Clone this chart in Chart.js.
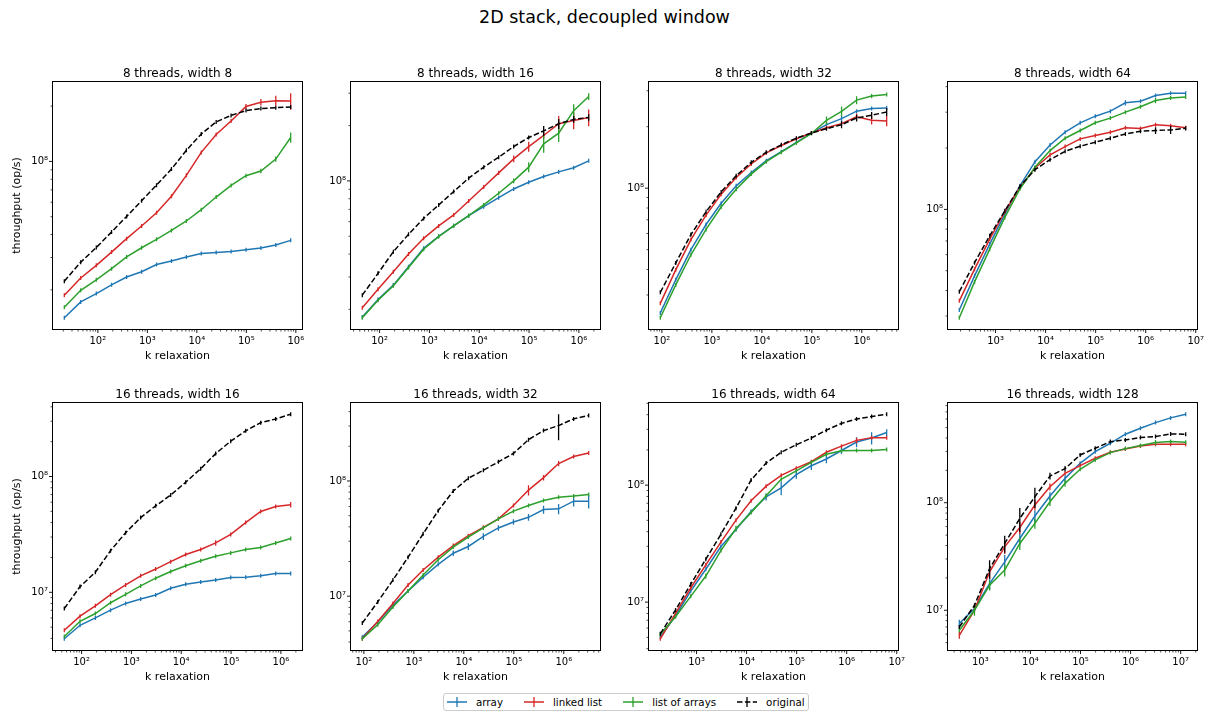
<!DOCTYPE html>
<html>
<head>
<meta charset="utf-8">
<title>2D stack, decoupled window</title>
<script src="https://cdn.jsdelivr.net/npm/chart.js@4.4.0/dist/chart.umd.min.js"></script>
<style>
  html, body { margin: 0; padding: 0; background: #fff; }
  #fig { position: relative; width: 1209px; height: 713px; overflow: hidden; font-family: "DejaVu Sans", sans-serif; color: #000; }
  #fig canvas { position: absolute; }
  #suptitle { position: absolute; left: 0; top: 7px; width: 1209px; text-align: center; font-size: 17.5px; line-height: 20px; }
  #legend { position: absolute; left: 443px; top: 693px; height: 18px; box-sizing: border-box; border: 1px solid #ccc; border-radius: 3px;
            padding: 0 3px; display: flex; align-items: center; font-size: 10.3px; white-space: nowrap; background: rgba(255,255,255,.8); }
  #legend .it { display: flex; align-items: center; margin-right: 21px; }
  #legend .it:last-child { margin-right: 0; }
  #legend svg { margin-right: 9px; }
</style>
</head>
<body>
<div id="fig">
  <div id="suptitle">2D stack, decoupled window</div>
  <div id="legend"></div>
</div>
<script>
/* 2D stack, decoupled window: 2x4 grid of log-log throughput plots */
(function () {
  "use strict";

  var SERIES_NAMES = ["array", "linked list", "list of arrays", "original"];
  var SERIES_COLORS = ["#1f77b4", "#d62728", "#2ca02c", "#000000"];
  var TITLES = ["8 threads, width 8", "8 threads, width 16", "8 threads, width 32", "8 threads, width 64",
                "16 threads, width 16", "16 threads, width 32", "16 threads, width 64", "16 threads, width 128"];

  // k relaxation values (x) per width
  var K8   = [21, 45, 93, 189, 381, 765, 1533, 3069, 6141, 12285, 24573, 49149, 98301, 196605, 393213, 786429];
  var K16  = [45, 93, 189, 381, 765, 1533, 3069, 6141, 12285, 24573, 49149, 98301, 196605, 393213, 786429, 1572861];
  var K32  = [93, 189, 381, 765, 1533, 3069, 6141, 12285, 24573, 49149, 98301, 196605, 393213, 786429, 1572861, 3145725];
  var K64  = [189, 381, 765, 1533, 3069, 6141, 12285, 24573, 49149, 98301, 196605, 393213, 786429, 1572861, 3145725, 6291453];
  var K128 = [381, 765, 1533, 3069, 6141, 12285, 24573, 49149, 98301, 196605, 393213, 786429, 1572861, 3145725, 6291453, 12582909];

  // throughput in millions of op/s: S<panel>_<series>, error half-widths E<panel>_<series>
  var S1_ARRAY  = [14.1, 17.2, 19.1, 21.3, 23.5, 25.1, 27.5, 28.7, 30.2, 31.5, 31.9, 32.3, 33.1, 33.8, 35.1, 37.2];
  var S1_LINKED = [18.7, 23.2, 27.2, 32.1, 38.0, 44.5, 52.6, 64.6, 84.0, 112, 140, 166, 199, 210, 214, 213];
  var S1_LOA    = [16.1, 19.9, 22.7, 26.1, 30.2, 33.9, 37.7, 42.1, 47.4, 54.6, 64.0, 74.0, 83.6, 88.6, 103, 135];
  var S1_ORIG   = [22.3, 28.3, 34.0, 41.3, 50.2, 61.1, 74.3, 90.8, 115, 141, 164, 178, 189, 194, 196, 198];
  var E1_ARRAY  = [0, 0, 0, 0, 0, 0, 0, 0, 0, 0, 0, 0, 0, 0, 0.6, 0.9];
  var E1_LINKED = [0, 0, 0, 0, 0, 0, 0, 0, 0, 0, 2, 3, 6.6, 8.8, 13.4, 22];
  var E1_LOA    = [0, 0, 0, 0, 0, 0, 0, 0, 0, 0, 0, 1.5, 1.5, 2.5, 3.4, 8.5];
  var E1_ORIG   = [0, 0, 0, 0, 0, 0, 0, 0, 0, 0, 0, 0, 2, 4, 3, 4];

  var S2_ARRAY  = [18.2, 22.6, 27.1, 34.1, 43.0, 50.0, 57.0, 64.7, 72.4, 81.1, 90.4, 98.4, 105.6, 112, 118, 128.6];
  var S2_LINKED = [20.4, 25.7, 32.0, 40.0, 48.7, 56.9, 65.3, 77.8, 92.7, 110.6, 131.8, 153.8, 176.7, 204.6, 213.3, 221.4];
  var S2_LOA    = [18.0, 22.4, 26.9, 33.8, 42.5, 49.8, 57.0, 64.7, 74.0, 85.7, 100, 118.8, 159, 182, 241, 288];
  var S2_ORIG   = [23.9, 31.4, 41.2, 51.2, 62.5, 74.0, 87.5, 103.5, 118.8, 134.6, 153.8, 172.2, 187.3, 204.6, 216.2, 221.4];
  var E2_ARRAY  = [0, 0, 0, 0, 0, 0, 0, 0, 0, 0, 0, 0, 0, 3, 2, 2];
  var E2_LINKED = [0, 0, 0, 0, 0, 0, 0, 0, 2, 3, 5.5, 9.7, 7, 21, 22, 23];
  var E2_LOA    = [0, 0, 0, 0, 0, 0, 0, 0, 0, 2, 3, 7.5, 16.6, 19, 20, 12];
  var E2_ORIG   = [0, 0, 0, 0, 0, 0, 0, 0, 0, 0, 0, 0, 11.7, 12.8, 9, 9];

  var S3_ARRAY  = [24.5, 35.6, 50.0, 66.4, 84.3, 102.7, 119.4, 136.4, 151, 167.5, 186.2, 204.8, 219, 238.2, 245.5, 247.2];
  var S3_LINKED = [27.3, 39.8, 56.0, 73.8, 93.3, 112.9, 131.4, 148.9, 161.8, 174.6, 186.2, 197.8, 207, 223.4, 214.9, 213.3];
  var S3_LOA    = [23.2, 33.6, 47.2, 62.8, 80.9, 98.9, 117.2, 134.9, 150, 166.7, 185.3, 214.8, 238, 269.8, 282.4, 287.7];
  var S3_ORIG   = [30.9, 43.0, 59.3, 76.7, 95.9, 115.1, 133.9, 150, 163, 175.8, 186.2, 195.5, 204.6, 220.7, 227.5, 236.2];
  var E3_ARRAY  = [0, 0, 0, 0, 0, 0, 0, 0, 0, 0, 0, 0, 8.3, 4.5, 3, 0];
  var E3_LINKED = [0, 0, 0, 0, 0, 0, 0, 0, 0, 0, 0, 0, 3, 8.5, 9.8, 12.1];
  var E3_LOA    = [0, 0, 0, 0, 0, 0, 0, 0, 0, 0, 0, 9.8, 13.5, 12.3, 6.4, 4];
  var E3_ORIG   = [0, 0, 0, 0, 0, 0, 0, 0, 0, 0, 0, 0, 7.8, 8.4, 8.6, 10.7];

  var S4_ARRAY  = [32.1, 47.2, 67.6, 94.9, 130.6, 171.4, 207, 239.3, 266, 286.7, 303.4, 333.4, 339.6, 362.2, 371.5, 371.5];
  var S4_LINKED = [35.6, 50.9, 71.5, 97.4, 128.3, 159.6, 185, 203.3, 221.8, 230.3, 239.3, 251.2, 249.3, 259.9, 257, 251.2];
  var S4_LOA    = [29.4, 44.1, 63.8, 91.3, 125.9, 160.9, 194.4, 223.4, 243.8, 266, 280.5, 300, 318.7, 342, 351.6, 355.6];
  var S4_ORIG   = [39.5, 54.8, 74.2, 98.4, 129.7, 156.7, 175.4, 192.8, 204.2, 213.6, 223.4, 234.6, 241.9, 243.8, 245.5, 250.1];
  var E4_ARRAY  = [0, 0, 0, 0, 0, 0, 0, 0, 0, 0, 4, 10, 5, 4, 0, 0];
  var E4_LINKED = [0, 0, 0, 0, 0, 0, 0, 0, 0, 0, 0, 0, 0, 5, 5, 0];
  var E4_LOA    = [0, 0, 0, 0, 0, 0, 0, 0, 0, 0, 0, 5, 6, 10.3, 0, 0];
  var E4_ORIG   = [0, 0, 0, 0, 0, 0, 0, 0, 0, 0, 0, 0, 5, 9.2, 11, 6];

  var S5_ARRAY  = [3.97, 5.19, 6.01, 7.01, 8.02, 8.75, 9.48, 10.84, 11.75, 12.3, 12.8, 13.4, 13.5, 13.9, 14.5, 14.5];
  var S5_LINKED = [4.70, 6.22, 7.65, 9.55, 11.58, 13.87, 15.88, 18.4, 21.2, 23.4, 26.7, 31.6, 40.0, 49.9, 55.1, 57.0];
  var S5_LOA    = [4.16, 5.62, 6.56, 8.13, 9.61, 11.35, 13.24, 15.14, 16.98, 18.75, 20.47, 21.9, 23.4, 24.4, 26.7, 29.2];
  var S5_ORIG   = [7.24, 11.2, 14.9, 22.9, 32.7, 44.2, 55.8, 69.2, 89.3, 116.7, 157.7, 202, 248, 291.7, 314, 345];
  var E5_ARRAY  = [0, 0, 0, 0, 0, 0, 0, 0, 0, 0, 0, 0, 0, 0, 0, 0];
  var E5_LINKED = [0, 0, 0, 0, 0, 0, 0, 0, 0, 0, 1.4, 0, 0, 0, 2, 3.1];
  var E5_LOA    = [0, 0, 0, 0, 0, 0, 0, 0, 0, 0, 0, 0, 0, 0, 0, 1];
  var E5_ORIG   = [0, 0, 0, 0, 0, 0, 0, 0, 0, 0, 0, 0, 0, 0, 0, 0];

  var S6_ARRAY  = [4.41, 5.97, 8.34, 11.1, 14.6, 18.9, 23.6, 27.0, 33.0, 39.1, 44.1, 48.4, 56.5, 57.3, 66.8, 66.8];
  var S6_LINKED = [4.27, 6.04, 8.63, 12.5, 16.9, 21.8, 27.5, 33.5, 39.6, 46.9, 61.2, 83.4, 106.9, 141.8, 163.3, 174.6];
  var S6_LOA    = [4.27, 5.65, 8.07, 11.1, 15.3, 20.7, 26.7, 32.6, 39.1, 46.9, 54.7, 61.2, 67.8, 72.4, 74.0, 76.4];
  var S6_ORIG   = [5.85, 8.92, 13.8, 21.8, 34.8, 55.3, 81.8, 105.5, 124, 146.6, 173.4, 228.5, 273.7, 302.7, 346, 370.5];
  var E6_ARRAY  = [0, 0, 0, 0, 0, 0, 1.3, 1.8, 2.2, 2.1, 2.4, 3.2, 4.5, 5.8, 6.7, 9];
  var E6_LINKED = [0, 0, 0, 0, 0, 0, 0, 0, 0, 0, 2, 8.4, 5.7, 7.6, 6.6, 5];
  var E6_LOA    = [0, 0, 0, 0, 0, 0, 0, 0, 0, 0, 0, 0, 0, 0, 0, 0];
  var E6_ORIG   = [0, 0, 0, 0, 0, 0, 0, 0, 0, 0, 0, 5, 0, 77, 0, 0];

  var S7_ARRAY  = [5.03, 7.65, 12.4, 19.1, 29.9, 41.7, 59.4, 79.2, 94.8, 123, 146.3, 167.2, 197.7, 233.4, 252.9, 281.3];
  var S7_LINKED = [4.86, 8.02, 13.2, 20.8, 32.6, 50.2, 73.6, 98, 121.3, 139.6, 158.5, 191, 215.4, 241.3, 254.6, 254.6];
  var S7_LOA    = [5.31, 7.50, 11.2, 16.7, 27.6, 42.6, 58.2, 81.3, 112, 132.4, 156.3, 183.5, 196.3, 197.7, 197.7, 201.4];
  var S7_ORIG   = [5.37, 8.57, 14.2, 23.3, 38.0, 63.5, 110.5, 154.2, 191, 221.3, 252.9, 295.1, 337.3, 367.3, 385.2, 403.6];
  var E7_ARRAY  = [0, 0, 0, 0, 0, 0, 0, 5.3, 12.7, 9.9, 11.7, 13.4, 13, 23, 30, 19];
  var E7_LINKED = [0, 0, 0, 0, 0, 0, 0, 0, 0, 0, 0, 0, 0, 13, 0, 0];
  var E7_LOA    = [0, 0, 0, 0.9, 0, 2.3, 0, 3.3, 0, 0, 0, 0, 0, 0, 0, 0];
  var E7_ORIG   = [0, 0, 0, 0, 0, 0, 0, 0, 0, 0, 0, 10, 0, 0, 0, 0];

  var S8_ARRAY  = [7.52, 10.4, 17.7, 28.2, 46.5, 75.2, 115.3, 168.5, 232.4, 298.5, 357, 433.5, 493, 556, 615, 665];
  var S8_LINKED = [5.85, 10.0, 22.8, 38.9, 58.9, 95.1, 140.9, 187.5, 221.3, 258.8, 294.4, 316.2, 337.3, 349.4, 349.4, 349.4];
  var S8_LOA    = [6.51, 10.0, 17.1, 23.6, 41.8, 64.2, 102, 151.4, 204.5, 250, 292.4, 318.4, 339.7, 362.2, 370, 364.8];
  var S8_ORIG   = [6.99, 11.1, 24.4, 41.8, 71.4, 113.7, 177, 207.5, 278, 320.6, 370, 383.7, 403.6, 412.1, 436.5, 433.5];
  var E8_ARRAY  = [0.65, 0, 2.3, 4.4, 6.6, 9.7, 9.9, 12, 0, 0, 0, 0, 0, 0, 0, 0];
  var E8_LINKED = [0.42, 0, 3.3, 5.6, 7.6, 10.2, 10.1, 6.7, 0, 0, 0, 0, 0, 0, 0, 0];
  var E8_LOA    = [0, 1.1, 1.8, 3, 5.4, 6.9, 8.8, 10.8, 0, 0, 0, 0, 0, 20, 0, 0];
  var E8_ORIG   = [0, 0, 4.7, 7.5, 17.9, 24.4, 12.7, 11.9, 0, 0, 0, 0, 0, 0, 0, 0];

  var PANELS = [
    { k: K8,   s: [S1_ARRAY, S1_LINKED, S1_LOA, S1_ORIG], e: [E1_ARRAY, E1_LINKED, E1_LOA, E1_ORIG] },
    { k: K16,  s: [S2_ARRAY, S2_LINKED, S2_LOA, S2_ORIG], e: [E2_ARRAY, E2_LINKED, E2_LOA, E2_ORIG] },
    { k: K32,  s: [S3_ARRAY, S3_LINKED, S3_LOA, S3_ORIG], e: [E3_ARRAY, E3_LINKED, E3_LOA, E3_ORIG] },
    { k: K64,  s: [S4_ARRAY, S4_LINKED, S4_LOA, S4_ORIG], e: [E4_ARRAY, E4_LINKED, E4_LOA, E4_ORIG] },
    { k: K16,  s: [S5_ARRAY, S5_LINKED, S5_LOA, S5_ORIG], e: [E5_ARRAY, E5_LINKED, E5_LOA, E5_ORIG] },
    { k: K32,  s: [S6_ARRAY, S6_LINKED, S6_LOA, S6_ORIG], e: [E6_ARRAY, E6_LINKED, E6_LOA, E6_ORIG] },
    { k: K64,  s: [S7_ARRAY, S7_LINKED, S7_LOA, S7_ORIG], e: [E7_ARRAY, E7_LINKED, E7_LOA, E7_ORIG] },
    { k: K128, s: [S8_ARRAY, S8_LINKED, S8_LOA, S8_ORIG], e: [E8_ARRAY, E8_LINKED, E8_LOA, E8_ORIG] }
  ];

  // layout (px)
  var PLOT_LEFT = [53, 351, 649, 948], PLOT_TOP = [82, 403], PLOT_W = 249, PLOT_H = 247;
  var YW = 50, TOPH = 25, XH = 38, RIGHT = 14;

  var SUP = { "0": "\u2070", "1": "\u00b9", "2": "\u00b2", "3": "\u00b3", "4": "\u2074", "5": "\u2075", "6": "\u2076", "7": "\u2077", "8": "\u2078", "9": "\u2079" };
  function sup(n) { return String(n).split("").map(function (c) { return SUP[c]; }).join(""); }

  // log ticks: majors at 10^n, minors at 2..9 x 10^n
  function logTicks(min, max) {
    var out = [];
    for (var e = Math.floor(Math.log10(min)); e <= Math.ceil(Math.log10(max)); e++) {
      for (var m = 1; m <= 9; m++) {
        var v = m * Math.pow(10, e);
        if (v >= min && v <= max) out.push({ value: v, exp: m === 1 ? e : null });
      }
    }
    return out;
  }
  function logLimits(vals) {
    var lo = Math.log10(Math.min.apply(null, vals)), hi = Math.log10(Math.max.apply(null, vals)), m = (hi - lo) * 0.05;
    return [Math.pow(10, lo - m), Math.pow(10, hi + m)];
  }

  Chart.defaults.font.family = "'DejaVu Sans', sans-serif";
  Chart.defaults.color = "#000";

  var frame = {
    id: "frame",
    afterDatasetDraw: function (chart, args) {
      var ds = chart.data.datasets[args.index];
      var xs = chart.scales.x, ys = chart.scales.y, ctx = chart.ctx, a = chart.chartArea;
      ctx.save();
      ctx.beginPath(); ctx.rect(a.left, a.top, a.right - a.left, a.bottom - a.top); ctx.clip();
      ctx.strokeStyle = ds.borderColor; ctx.lineWidth = 1.3; ctx.setLineDash([]);
      ctx.beginPath();
      ds.data.forEach(function (p, i) {
        var e = ds.err[i];
        var px = xs.getPixelForValue(p.x), py = ys.getPixelForValue(p.y);
        var t = Math.min(ys.getPixelForValue(p.y + e), py - 2);
        var b = Math.max(ys.getPixelForValue(Math.max(p.y - e, ys.min)), py + 2);
        ctx.moveTo(px, t); ctx.lineTo(px, b);
      });
      ctx.stroke();
      ctx.restore();
    },
    afterDraw: function (chart) {
      var ctx = chart.ctx, a = chart.chartArea, xs = chart.scales.x, ys = chart.scales.y;
      ctx.save();
      ctx.strokeStyle = "#000";
      ctx.lineWidth = 1;
      ctx.strokeRect(Math.round(a.left) - 0.5, Math.round(a.top) - 0.5, Math.round(a.right - a.left) + 1, Math.round(a.bottom - a.top) + 1);
      xs.ticks.forEach(function (t) {
        var p = xs.getPixelForValue(t.value), len = t.exp != null ? 3.5 : 2;
        ctx.lineWidth = t.exp != null ? 0.9 : 0.7;
        ctx.beginPath(); ctx.moveTo(p, a.bottom + 0.5); ctx.lineTo(p, a.bottom + 0.5 + len); ctx.stroke();
      });
      ys.ticks.forEach(function (t) {
        var p = ys.getPixelForValue(t.value), len = t.exp != null ? 3.5 : 2;
        ctx.lineWidth = t.exp != null ? 0.9 : 0.7;
        ctx.beginPath(); ctx.moveTo(a.left - 0.5, p); ctx.lineTo(a.left - 0.5 - len, p); ctx.stroke();
      });
      ctx.restore();
    }
  };

  function tickLabel(v, i, ticks) { var e = ticks[i] && ticks[i].exp; return e == null ? "" : "10" + sup(e); }

  var fig = document.getElementById("fig");

  PANELS.forEach(function (pn, idx) {
    var col = idx % 4, row = Math.floor(idx / 4);
    var w = YW + PLOT_W + RIGHT, h = TOPH + PLOT_H + XH;
    var cv = document.createElement("canvas");
    cv.width = w; cv.height = h;
    cv.style.left = (PLOT_LEFT[col] - YW) + "px";
    cv.style.top = (PLOT_TOP[row] - TOPH) + "px";
    cv.style.width = w + "px"; cv.style.height = h + "px";
    fig.appendChild(cv);

    var yv = [];
    pn.s.forEach(function (ser, si) {
      ser.forEach(function (v, i) { yv.push((v + pn.e[si][i]) * 1e6, Math.max(v - pn.e[si][i], v * 0.5) * 1e6); });
    });
    var xl = logLimits(pn.k), yl = logLimits(yv);

    var datasets = pn.s.map(function (ser, si) {
      return {
        label: SERIES_NAMES[si],
        data: ser.map(function (v, i) { return { x: pn.k[i], y: v * 1e6 }; }),
        err: pn.e[si].map(function (v) { return v * 1e6; }),
        borderColor: SERIES_COLORS[si],
        backgroundColor: SERIES_COLORS[si],
        borderWidth: 1.5,
        borderDash: si === 3 ? [5.5, 2.4] : [],
        pointRadius: 0,
        tension: 0,
        fill: false,
        order: 3 - si
      };
    });

    new Chart(cv, {
      type: "line",
      data: { datasets: datasets },
      options: {
        responsive: false,
        animation: false,
        devicePixelRatio: 1,
        layout: { padding: { left: 0, right: RIGHT, top: TOPH - 14.9, bottom: 0 } },
        plugins: {
          legend: { display: false },
          tooltip: { enabled: false },
          title: { display: true, fullSize: false, text: TITLES[idx], font: { size: 12, weight: "normal" }, padding: { top: 0, bottom: 0.5 }, color: "#000" }
        },
        scales: {
          x: {
            type: "logarithmic", position: "bottom", min: xl[0], max: xl[1],
            afterBuildTicks: function (s) { s.ticks = logTicks(xl[0], xl[1]); },
            afterFit: function (s) { s.height = XH; s.paddingLeft = 0; s.paddingRight = 0; },
            grid: { display: true, drawOnChartArea: false, drawTicks: false },
            border: { display: false },
            ticks: { autoSkip: false, maxRotation: 0, minRotation: 0, padding: 6, font: { size: 10 }, callback: tickLabel },
            title: { display: true, text: "k relaxation", font: { size: 11 }, padding: { top: 0, bottom: 4 } }
          },
          y: {
            type: "logarithmic", position: "left", min: yl[0], max: yl[1],
            afterBuildTicks: function (s) { s.ticks = logTicks(yl[0], yl[1]); },
            afterFit: function (s) { s.width = YW; s.paddingTop = 0; s.paddingBottom = 0; },
            grid: { display: true, drawOnChartArea: false, drawTicks: false },
            border: { display: false },
            ticks: { autoSkip: false, padding: 5, font: { size: 10 }, callback: tickLabel },
            title: { display: col === 0, text: "throughput (op/s)", font: { size: 11 }, padding: { top: 8, bottom: 0 } }
          }
        }
      },
      plugins: [frame]
    });
  });

  // legend
  var lg = document.getElementById("legend");
  SERIES_NAMES.forEach(function (name, i) {
    var dash = i === 3 ? ' stroke-dasharray="5.5 2.4"' : "";
    var it = document.createElement("span");
    it.className = "it";
    it.innerHTML = '<svg width="20" height="12"><line x1="0" y1="6" x2="20" y2="6" stroke="' + SERIES_COLORS[i] + '" stroke-width="1.5"' + dash + '/>' +
      '<line x1="10" y1="1" x2="10" y2="11" stroke="' + SERIES_COLORS[i] + '" stroke-width="1.3"/></svg><span>' + name + "</span>";
    lg.appendChild(it);
  });
})();
</script>
</body>
</html>
